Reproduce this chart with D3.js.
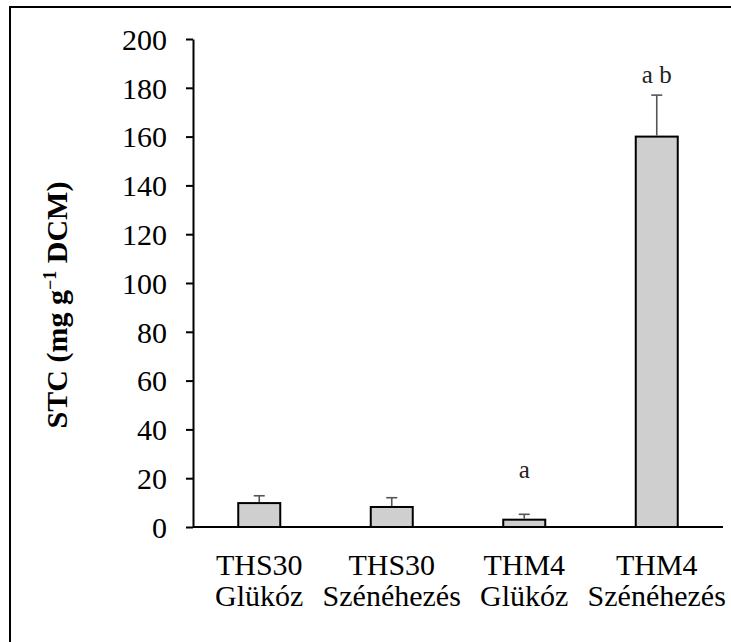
<!DOCTYPE html>
<html>
<head>
<meta charset="utf-8">
<script src="https://cdn.jsdelivr.net/npm/d3@7"></script>
<style>
  body { margin: 0; background: #fff; }
  svg { display: block; font-family: 'Liberation Serif', 'Times New Roman', serif; }
</style>
</head>
<body>
<script>
// data

var groups = ['THS30|Glükóz', 'THS30|Szénéhezés', 'THM4|Glükóz', 'THM4|Szénéhezés']
var means = [9.8, 8.2, 3.0, 160]
var errors = [3.0, 3.8, 2.2, 17]
var letters = ['', '', 'a', 'a b']
var yTicks = [0, 20, 40, 60, 80, 100, 120, 140, 160, 180, 200]

var width = 731
var height = 642

var svg = d3.select('body').append('svg')
  .attr('width', width)
  .attr('height', height)

// outer frame (right and bottom edges fall outside the crop)
svg.append('rect')
  .attr('x', 10)
  .attr('y', 7)
  .attr('width', 740)
  .attr('height', 660)
  .attr('fill', 'none')
  .attr('stroke', '#000')
  .attr('stroke-width', 2)

// plot area (don't use "top" as a global, it's window.top)
var plot = { left: 193, right: 723, top: 39, bottom: 527 }

var x = d3.scaleBand()
  .domain(groups)
  .range([plot.left, plot.right])

var barWidth = 42

var y = d3.scaleLinear()
  .domain([0, 200])
  .range([plot.bottom, plot.top])

function cx(d) { return x(d) + x.bandwidth() / 2 }

// y axis
var yAxis = svg.append('g')
  .attr('transform', `translate(${plot.left},0)`)
  .call(d3.axisLeft(y).tickValues(yTicks).tickSize(7).tickPadding(19).tickSizeOuter(0))

yAxis.attr('font-family', null)
yAxis.select('.domain').attr('stroke', '#000').attr('stroke-width', 2)
yAxis.selectAll('.tick line').attr('stroke', '#000').attr('stroke-width', 2)
yAxis.selectAll('.tick text')
  .attr('fill', '#000')
  .style('font-family', "'Liberation Serif', serif")
  .style('font-size', '30px')
  .attr('dy', '0.34em')

// bars
svg.selectAll('.bar')
  .data(groups)
  .enter()
  .append('rect')
  .attr('class', 'bar')
  .attr('x', function(d) { return cx(d) - barWidth / 2 })
  .attr('y', function(d, i) { return y(means[i]) })
  .attr('width', barWidth)
  .attr('height', function(d, i) { return y(0) - y(means[i]) })
  .attr('fill', '#d0cfd0')
  .attr('stroke', '#000')
  .attr('stroke-width', 2)

// error bars, upward only
var err = svg.selectAll('.err')
  .data(groups)
  .enter()
  .append('g')
  .attr('class', 'err')
  .attr('stroke', '#555')
  .attr('stroke-width', 1.6)

err.append('line')
  .attr('x1', cx)
  .attr('x2', cx)
  .attr('y1', function(d, i) { return y(means[i]) - 1 })
  .attr('y2', function(d, i) { return y(means[i] + errors[i]) })

err.append('line')
  .attr('x1', function(d) { return cx(d) - 5.5 })
  .attr('x2', function(d) { return cx(d) + 5.5 })
  .attr('y1', function(d, i) { return y(means[i] + errors[i]) })
  .attr('y2', function(d, i) { return y(means[i] + errors[i]) })

// x axis line
svg.append('line')
  .attr('x1', plot.left)
  .attr('x2', plot.right)
  .attr('y1', y(0))
  .attr('y2', y(0))
  .attr('stroke', '#000')
  .attr('stroke-width', 2)

// category labels, two lines each
var cat = svg.selectAll('.cat')
  .data(groups)
  .enter()
  .append('text')
  .attr('class', 'cat')
  .attr('text-anchor', 'middle')
  .style('font-size', '30px')
  .attr('fill', '#000')

cat.append('tspan')
  .attr('x', cx)
  .attr('y', 575)
  .text(function(d) { return d.split('|')[0] })

cat.append('tspan')
  .attr('x', cx)
  .attr('y', 606)
  .text(function(d) { return d.split('|')[1] })

// significance letters
svg.selectAll('.sig')
  .data(groups)
  .enter()
  .append('text')
  .attr('class', 'sig')
  .attr('text-anchor', 'middle')
  .attr('x', cx)
  .attr('y', function(d, i) { return i === 3 ? 83 : 478 })
  .style('font-size', '25px')
  .attr('fill', '#222')
  .text(function(d, i) { return letters[i] })

// y axis title
var title = svg.append('text')
  .attr('transform', 'translate(67,305) rotate(-90)')
  .attr('text-anchor', 'middle')
  .style('font-size', '30px')
  .style('font-weight', 'bold')
  .attr('fill', '#000')

title.append('tspan').text('STC (mg g')
title.append('tspan').attr('dy', -11).style('font-size', '18px').text('−1')
title.append('tspan').attr('dy', 11).text(' DCM)')
</script>
</body>
</html>
